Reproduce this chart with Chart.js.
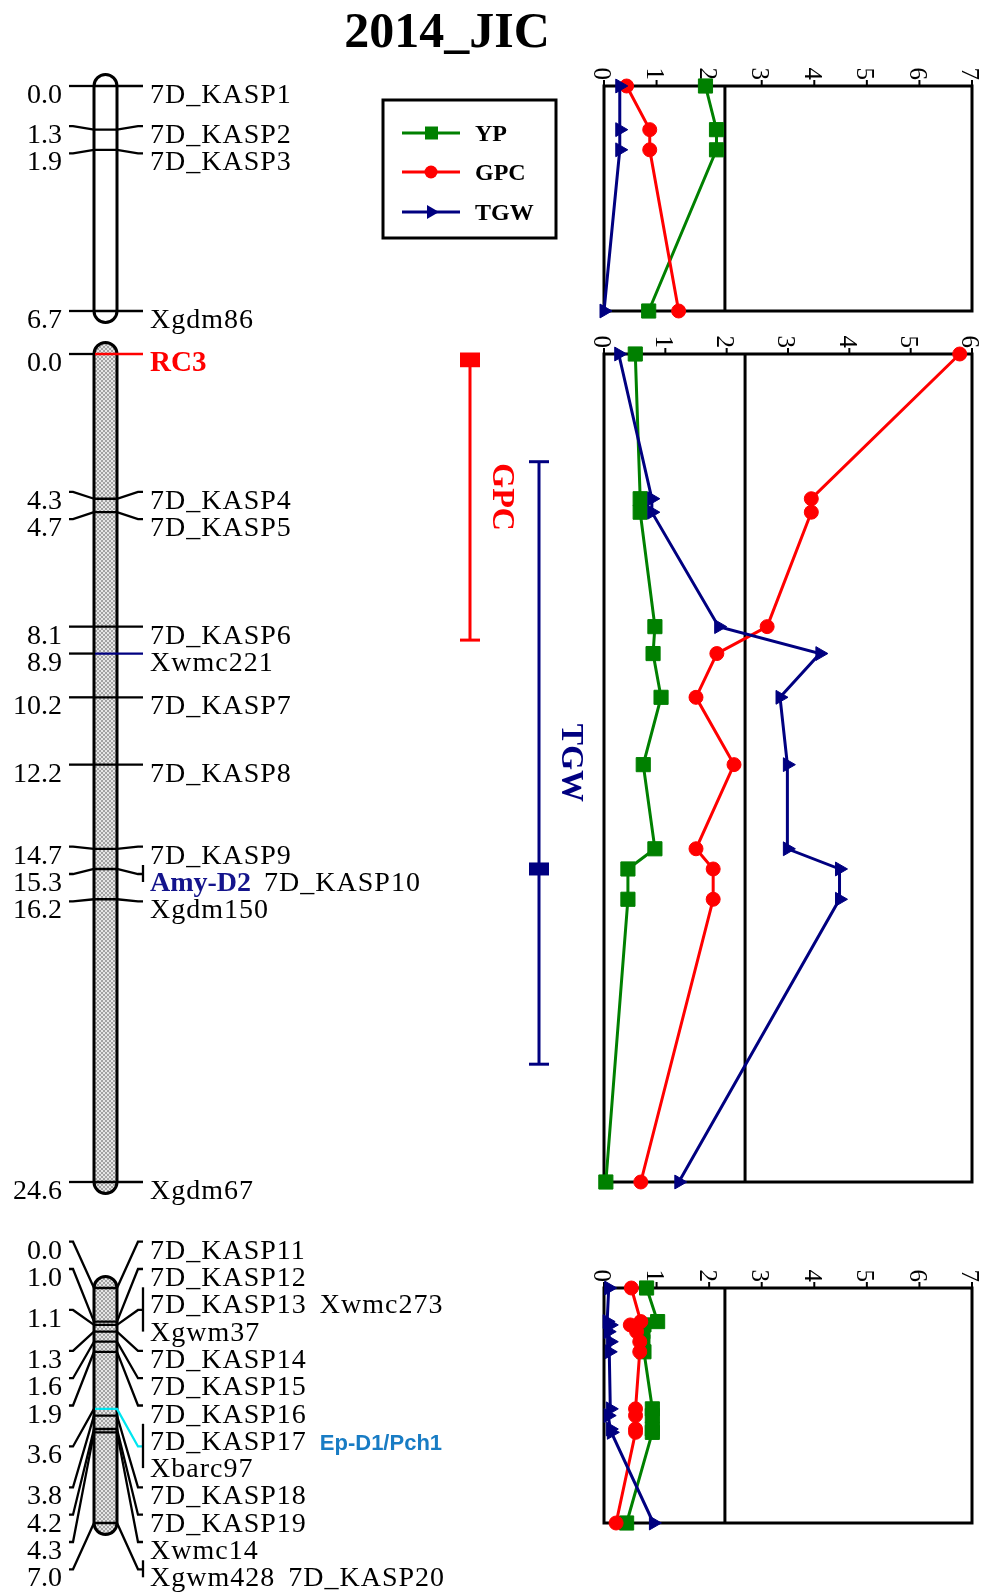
<!DOCTYPE html>
<html>
<head>
<meta charset="utf-8">
<title>2014_JIC</title>
<script src="https://cdn.jsdelivr.net/npm/chart.js@4.4.0/dist/chart.umd.min.js"></script>
<style>
  html, body { margin: 0; padding: 0; background: #fff; }
  #wrap { position: relative; width: 983px; height: 1595px; }
  #wrap canvas { position: absolute; left: 0; }
</style>
</head>
<body>
<div id="wrap">
  <canvas id="grp1" width="983" height="335" style="top:0px"></canvas>
  <canvas id="grp2" width="983" height="880" style="top:335px"></canvas>
  <canvas id="grp3" width="983" height="380" style="top:1215px"></canvas>
</div>
<script>
// ---------- linkage group 1 ----------
const g1RowLabels = [['7D_KASP1'], ['7D_KASP2'], ['7D_KASP3'], ['Xgdm86']];
const g1RowPos = [0.0, 1.3, 1.9, 6.7];
const g1LodPos = [0.0, 1.3, 1.9, 6.7];
const g1YP  = [1.93, 2.14, 2.14, 0.85];
const g1GPC = [0.43, 0.87, 0.87, 1.42];
const g1TGW = [0.30, 0.30, 0.30, 0.00];

// ---------- linkage group 2 ----------
const g2RowLabels = [['RC3'], ['7D_KASP4'], ['7D_KASP5'], ['7D_KASP6'], ['Xwmc221'], ['7D_KASP7'],
  ['7D_KASP8'], ['7D_KASP9'], ['Amy-D2', '7D_KASP10'], ['Xgdm150'], ['Xgdm67']];
const g2RowPos = [0.0, 4.3, 4.7, 8.1, 8.9, 10.2, 12.2, 14.7, 15.3, 16.2, 24.6];
const g2LodPos = [0.0, 4.3, 4.7, 8.1, 8.9, 10.2, 12.2, 14.7, 15.3, 16.2, 24.6];
const g2YP  = [0.51, 0.59, 0.59, 0.83, 0.80, 0.93, 0.64, 0.83, 0.39, 0.39, 0.03];
const g2GPC = [5.80, 3.38, 3.38, 2.66, 1.84, 1.50, 2.12, 1.50, 1.78, 1.78, 0.60];
const g2TGW = [0.24, 0.78, 0.78, 1.87, 3.52, 2.87, 2.99, 2.99, 3.84, 3.84, 1.22];

// ---------- linkage group 3 ----------
const g3RowLabels = [['7D_KASP11'], ['7D_KASP12'], ['7D_KASP13', 'Xwmc273'], ['Xgwm37'], ['7D_KASP14'],
  ['7D_KASP15'], ['7D_KASP16'], ['7D_KASP17', 'Ep-D1/Pch1'], ['Xbarc97'], ['7D_KASP18'],
  ['7D_KASP19'], ['Xwmc14'], ['Xgwm428', '7D_KASP20']];
const g3RowPos = [0.0, 1.0, 1.1, 1.1, 1.3, 1.6, 1.9, 3.6, 3.6, 3.8, 4.2, 4.3, 7.0];
const g3LodPos = [0.0, 1.0, 1.1, 1.3, 1.6, 1.9, 3.6, 3.8, 4.2, 4.3, 7.0];
const g3YP  = [0.81, 1.02, 0.76, 0.74, 0.74, 0.76, 0.92, 0.92, 0.92, 0.92, 0.43];
const g3GPC = [0.52, 0.70, 0.50, 0.62, 0.68, 0.68, 0.60, 0.60, 0.60, 0.60, 0.23];
const g3TGW = [0.09, 0.06, 0.12, 0.08, 0.12, 0.10, 0.12, 0.08, 0.12, 0.14, 0.94];

// LOD significance threshold per group
const lodThreshold = [2.3, 2.3, 2.3];
const lodMax = [7, 6, 7];

// QTL confidence intervals on group 2 (cM)
const qtlTrait = ['GPC', 'TGW'];
const qtlStart = [0.0, 3.2];
const qtlEnd   = [8.5, 21.1];
const qtlPeak  = [0.2, 15.3];

const GREEN = 'rgb(0,128,0)', RED = 'rgb(255,0,0)', NAVY = 'rgb(0,0,128)';
const SERIF = '"Liberation Serif", "Times New Roman", serif';
const SANS = '"Liberation Sans", Arial, sans-serif';

// special marker labels
const labelStyle = {
  'RC3': { color: RED, font: 'bold 29px ' + SERIF, line: RED },
  'Xwmc221': { line: NAVY },
  'Amy-D2': { color: 'rgb(20,20,140)', font: 'bold 28px ' + SERIF },
  'Ep-D1/Pch1': { color: 'rgb(24,124,196)', font: 'bold 22px ' + SANS, line: 'rgb(0,230,240)' }
};

// map geometry
const CH_L = 94, CH_W = 23, LEFT_END = 69, RIGHT_END = 143, NUM_RIGHT = 62, LABEL_X = 150, ROW_GAP = 27.3;

function hatchPattern(ctx) {
  const c = document.createElement('canvas');
  c.width = 4; c.height = 4;
  const g = c.getContext('2d');
  g.fillStyle = '#e6e6e6';
  g.fillRect(0, 0, 4, 4);
  g.fillStyle = '#a2a2a2';
  for (let i = 0; i < 4; i++) { g.fillRect(i, i, 1, 1); g.fillRect(3 - i, i, 1, 1); }
  return ctx.createPattern(c, 'repeat');
}

// spread label rows apart, clusters centred between their first and last marker
function layoutRows(desired, gap) {
  let clusters = desired.map((y, i) => ({ first: i, last: i }));
  const start = c => (desired[c.first] + desired[c.last]) / 2 - (c.last - c.first) * gap / 2;
  let merged = true;
  while (merged) {
    merged = false;
    for (let k = 0; k < clusters.length - 1; k++) {
      const a = clusters[k], b = clusters[k + 1];
      const aEnd = start(a) + (a.last - a.first) * gap;
      if (start(b) - aEnd < gap - 0.5) {
        clusters.splice(k, 2, { first: a.first, last: b.last });
        merged = true;
        break;
      }
    }
  }
  const out = [];
  clusters.forEach(c => {
    const s = start(c);
    for (let i = c.first; i <= c.last; i++) out[i] = s + (i - c.first) * gap;
  });
  return out;
}

function polyline(ctx, pts) {
  ctx.beginPath();
  ctx.moveTo(pts[0][0], pts[0][1]);
  for (let i = 1; i < pts.length; i++) ctx.lineTo(pts[i][0], pts[i][1]);
  ctx.stroke();
}

function drawMap(chart, rowLabels, rowPos, hatched) {
  const { ctx } = chart;
  const ys = chart.scales.y;
  const yOf = v => ys.getPixelForValue(v);
  const rowY = layoutRows(rowPos.map(yOf), ROW_GAP);

  const blocks = [];
  rowPos.forEach((p, i) => {
    let b = blocks[blocks.length - 1];
    if (!b || b.pos !== p) { b = { pos: p, rows: [] }; blocks.push(b); }
    b.rows.push(i);
  });

  const L = CH_L, R = CH_L + CH_W, r = CH_W / 2;
  const yTop = yOf(ys.min), yBot = yOf(ys.max);
  ctx.save();
  ctx.beginPath();
  ctx.moveTo(L, yTop);
  ctx.arc(L + r, yTop, r, Math.PI, 0);
  ctx.lineTo(R, yBot);
  ctx.arc(L + r, yBot, r, 0, Math.PI);
  ctx.closePath();
  ctx.fillStyle = hatched ? hatchPattern(ctx) : '#fff';
  ctx.fill();
  ctx.lineWidth = 3;
  ctx.strokeStyle = '#000';
  ctx.stroke();

  ctx.lineCap = 'butt';
  blocks.forEach(b => {
    const yp = yOf(b.pos);
    const ry = b.rows.map(i => rowY[i]);
    const ym = (ry[0] + ry[ry.length - 1]) / 2;
    const labels = b.rows.flatMap(i => rowLabels[i]);
    const lineColor = labels.map(s => labelStyle[s] && labelStyle[s].line).find(Boolean) || '#000';

    ctx.lineWidth = 2.3;
    ctx.strokeStyle = '#000';
    polyline(ctx, [[LEFT_END, ym], [LEFT_END + 4, ym], [L, yp]]);
    ctx.strokeStyle = lineColor;
    polyline(ctx, [[L + 1, yp], [R, yp], [RIGHT_END - 5, ym], [RIGHT_END, ym]]);
    if (labels.length > 1) {
      ctx.strokeStyle = '#000';
      polyline(ctx, [[RIGHT_END, ry[0] - 9], [RIGHT_END, ry[ry.length - 1] + 8]]);
    }

    ctx.fillStyle = '#000';
    ctx.font = '28px ' + SERIF;
    ctx.textAlign = 'right';
    ctx.textBaseline = 'alphabetic';
    ctx.letterSpacing = '0px';
    ctx.fillText(b.pos.toFixed(1), NUM_RIGHT, ym + 17);

    ctx.textAlign = 'left';
    b.rows.forEach(i => {
      let x = LABEL_X;
      rowLabels[i].forEach(s => {
        const st = labelStyle[s] || {};
        ctx.font = st.font || ('28px ' + SERIF);
        ctx.fillStyle = st.color || '#000';
        ctx.letterSpacing = st.font ? '0px' : '1px';
        ctx.fillText(s, x, rowY[i] + 17);
        x += ctx.measureText(s).width + 13;
      });
    });
    ctx.letterSpacing = '0px';
  });
  ctx.restore();
}

// frame, threshold and rotated LOD ticks along the top edge
function drawFrame(chart, threshold) {
  const { ctx, chartArea: a } = chart;
  const x = chart.scales.x;
  ctx.save();
  ctx.strokeStyle = '#000';
  ctx.lineWidth = 3;
  ctx.strokeRect(a.left, a.top, a.right - a.left, a.bottom - a.top);
  const tx = x.getPixelForValue(threshold);
  polyline(ctx, [[tx, a.top], [tx, a.bottom]]);
  ctx.lineWidth = 2;
  ctx.fillStyle = '#000';
  ctx.font = '25px ' + SERIF;
  for (let v = Math.ceil(x.min); v <= x.max; v++) {
    const px = x.getPixelForValue(v);
    polyline(ctx, [[px, a.top], [px, a.top - 6]]);
    ctx.save();
    ctx.translate(px - 3, a.top - 6);
    ctx.rotate(Math.PI / 2);
    ctx.textAlign = 'right';
    ctx.textBaseline = 'middle';
    ctx.fillText(String(v), 0, 0);
    ctx.restore();
  }
  ctx.restore();
}

function drawTitleAndLegend(chart) {
  const ctx = chart.ctx;
  ctx.save();
  ctx.fillStyle = '#000';
  ctx.font = 'bold 50px ' + SERIF;
  ctx.textAlign = 'center';
  ctx.fillText('2014_JIC', 447, 47);

  ctx.lineWidth = 3;
  ctx.strokeStyle = '#000';
  ctx.strokeRect(383, 100, 173, 138);
  const rows = [133, 172, 212];
  chart.data.datasets.forEach((ds, i) => {
    const y = rows[i];
    ctx.strokeStyle = ds.borderColor;
    ctx.fillStyle = ds.borderColor;
    ctx.lineWidth = 3;
    polyline(ctx, [[402, y], [460, y]]);
    ctx.beginPath();
    if (ds.pointStyle === 'rect') ctx.rect(425, y - 6.5, 13, 13);
    else if (ds.pointStyle === 'circle') ctx.arc(431, y, 6.5, 0, Math.PI * 2);
    else { ctx.moveTo(439, y); ctx.lineTo(427, y - 7); ctx.lineTo(427, y + 7); ctx.closePath(); }
    ctx.fill();
    ctx.fillStyle = '#000';
    ctx.font = 'bold 24px ' + SERIF;
    ctx.textAlign = 'left';
    ctx.fillText(ds.label, 475, y + 8);
  });
  ctx.restore();
}

function drawQtl(chart) {
  const ctx = chart.ctx;
  const ys = chart.scales.y;
  const xs = [470, 539];
  const cols = { GPC: RED, TGW: NAVY };
  ctx.save();
  qtlTrait.forEach((t, i) => {
    const x = xs[i], c = cols[t];
    const y1 = ys.getPixelForValue(qtlStart[i]), y2 = ys.getPixelForValue(qtlEnd[i]);
    ctx.strokeStyle = c;
    ctx.fillStyle = c;
    ctx.lineWidth = 3;
    polyline(ctx, [[x, y1], [x, y2]]);
    polyline(ctx, [[x - 10, y1], [x + 10, y1]]);
    polyline(ctx, [[x - 10, y2], [x + 10, y2]]);
    const yp = ys.getPixelForValue(qtlPeak[i]);
    ctx.fillRect(x - 10, yp - 6.5, 20, 13);
    ctx.save();
    ctx.translate(x + 31, (y1 + y2) / 2);
    ctx.rotate(Math.PI / 2);
    ctx.font = 'bold 32px ' + SERIF;
    ctx.textAlign = 'center';
    ctx.textBaseline = 'middle';
    ctx.fillText(t, 0, 0);
    ctx.restore();
  });
  ctx.restore();
}

function lodDatasets(pos, yp, gpc, tgw) {
  const pts = arr => arr.map((v, i) => ({ x: v, y: pos[i] }));
  const base = { showLine: true, borderWidth: 3, tension: 0, clip: false, pointBorderWidth: 1 };
  return [
    Object.assign({}, base, { label: 'YP', data: pts(yp), borderColor: GREEN, backgroundColor: GREEN,
      pointBorderColor: GREEN, pointBackgroundColor: GREEN, pointStyle: 'rect', pointRadius: 10, order: 3 }),
    Object.assign({}, base, { label: 'GPC', data: pts(gpc), borderColor: RED, backgroundColor: RED,
      pointBorderColor: RED, pointBackgroundColor: RED, pointStyle: 'circle', pointRadius: 7, order: 2 }),
    Object.assign({}, base, { label: 'TGW', data: pts(tgw), borderColor: NAVY, backgroundColor: NAVY,
      pointBorderColor: NAVY, pointBackgroundColor: NAVY, pointStyle: 'triangle', pointRotation: 90,
      pointRadius: 8, order: 1 })
  ];
}

function makeGroup(id, idx, rowLabels, rowPos, lodPos, yp, gpc, tgw, cmMax, pad, hatched, extra) {
  return new Chart(document.getElementById(id), {
    type: 'scatter',
    data: { datasets: lodDatasets(lodPos, yp, gpc, tgw) },
    options: {
      responsive: false,
      animation: false,
      devicePixelRatio: 1,
      events: [],
      layout: { padding: { left: 604, right: 10, top: pad[0], bottom: pad[1] } },
      scales: {
        x: { type: 'linear', display: false, min: 0, max: lodMax[idx], ticks: { stepSize: 1 } },
        y: { type: 'linear', display: false, reverse: true, min: 0, max: cmMax }
      },
      plugins: { legend: { display: false }, tooltip: { enabled: false } }
    },
    plugins: [{
      id: 'linkageMap' + idx,
      beforeDatasetsDraw(chart) {
        drawFrame(chart, lodThreshold[idx]);
        drawMap(chart, rowLabels, rowPos, hatched);
        if (extra) extra(chart);
      }
    }]
  });
}

makeGroup('grp1', 0, g1RowLabels, g1RowPos, g1LodPos, g1YP, g1GPC, g1TGW, 6.7, [86, 24], false, drawTitleAndLegend);
makeGroup('grp2', 1, g2RowLabels, g2RowPos, g2LodPos, g2YP, g2GPC, g2TGW, 24.6, [19, 33], true, drawQtl);
makeGroup('grp3', 2, g3RowLabels, g3RowPos, g3LodPos, g3YP, g3GPC, g3TGW, 7.0, [73, 72], true, null);
</script>
</body>
</html>
